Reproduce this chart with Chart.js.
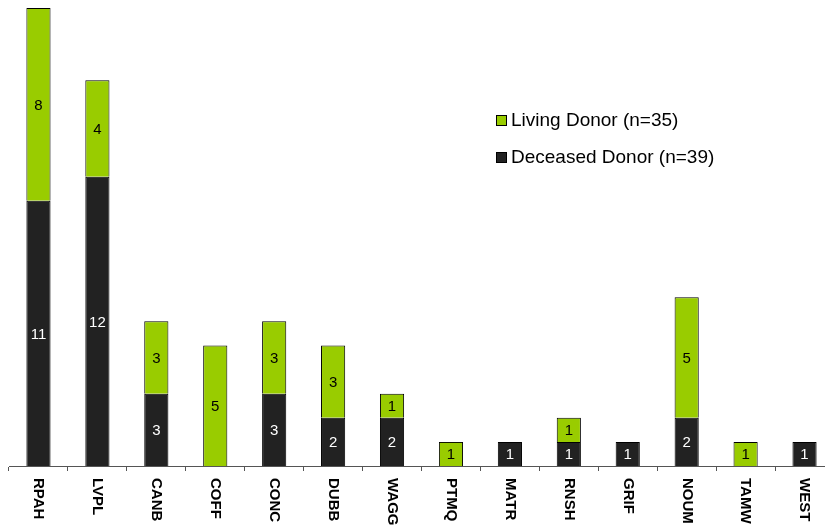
<!DOCTYPE html>
<html>
<head>
<meta charset="utf-8">
<script src="https://cdn.jsdelivr.net/npm/chart.js@4/dist/chart.umd.min.js"></script>
<style>
    html, body { margin: 0; padding: 0; background: #fff; overflow: hidden; }
    #wrap { position: absolute; left: 0; top: 0; width: 834px; height: 530px; }
</style>
</head>
<body>
<div id="wrap"><canvas id="donorChart" width="834" height="530"></canvas></div>
<script>
// Transplant centres, donor counts per centre
const centres = ['RPAH', 'LVPL', 'CANB', 'COFF', 'CONC', 'DUBB', 'WAGG', 'PTMQ', 'MATR', 'RNSH', 'GRIF', 'NOUM', 'TAMW', 'WEST'];
const deceased = [11, 12, 3, 0, 3, 2, 2, 0, 1, 1, 1, 2, 0, 1];
const living = [8, 4, 3, 5, 3, 3, 1, 1, 0, 1, 0, 5, 1, 0];
const seriesNames = ['Deceased Donor (n=39)', 'Living Donor (n=35)'];

const GREEN = '#99cc00';
const DARK = '#222222';

/**
 * Value labels centred inside each stacked segment.
 */
const segmentLabels = {
    id: 'segmentLabels',
    afterDatasetsDraw(chart) {
        const ctx = chart.ctx;
        ctx.save();
        ctx.font = '15px "Liberation Sans", Arial, sans-serif';
        ctx.textAlign = 'center';
        ctx.textBaseline = 'middle';
        chart.data.datasets.forEach((ds, i) => {
            const meta = chart.getDatasetMeta(i);
            meta.data.forEach((bar, j) => {
                const v = ds.data[j];
                if (!v) return;
                ctx.fillStyle = i === 0 ? '#ffffff' : '#000000';
                ctx.fillText(String(v), bar.x, (bar.y + bar.base) / 2 + 1);
            });
        });
        ctx.restore();
    }
};

/**
 * Category names below the axis, turned clockwise (read top to bottom).
 */
const sideLabels = {
    id: 'sideLabels',
    afterDraw(chart) {
        const ctx = chart.ctx;
        const x = chart.scales.x;
        const top = chart.chartArea.bottom + 12;
        ctx.save();
        ctx.font = 'bold 15px "Liberation Sans", Arial, sans-serif';
        ctx.fillStyle = '#000';
        ctx.textAlign = 'left';
        ctx.textBaseline = 'middle';
        centres.forEach((name, i) => {
            ctx.save();
            ctx.translate(x.getPixelForValue(i), top);
            ctx.rotate(Math.PI / 2);
            ctx.fillText(name, 0, 0);
            ctx.restore();
        });
        ctx.restore();
    }
};

/**
 * Legend box inside the plot, Living first.
 */
const boxLegend = {
    id: 'boxLegend',
    afterDraw(chart) {
        const ctx = chart.ctx;
        const rows = [1, 0];
        ctx.save();
        ctx.font = '19px "Liberation Sans", Arial, sans-serif';
        ctx.textAlign = 'left';
        ctx.textBaseline = 'middle';
        rows.forEach((di, k) => {
            const ds = chart.data.datasets[di];
            const cy = 121 + k * 37;
            ctx.fillStyle = ds.backgroundColor;
            ctx.fillRect(496.5, cy - 5.5, 10, 10);
            ctx.strokeStyle = '#000';
            ctx.lineWidth = 1;
            ctx.strokeRect(496.5, cy - 5.5, 10, 10);
            ctx.fillStyle = '#000';
            ctx.fillText(ds.label, 511, cy);
        });
        ctx.restore();
    }
};

new Chart(document.getElementById('donorChart'), {
    type: 'bar',
    data: {
        labels: centres,
        datasets: [{
            label: seriesNames[0],
            data: deceased,
            backgroundColor: DARK,
            borderColor: '#000',
            borderWidth: 1,
            barPercentage: 0.41,
            categoryPercentage: 1,
        }, {
            label: seriesNames[1],
            data: living,
            backgroundColor: GREEN,
            borderColor: '#000',
            borderWidth: 1,
            barPercentage: 0.41,
            categoryPercentage: 1,
        }],
    },
    options: {
        responsive: false,
        animation: false,
        layout: { padding: { left: 9, right: 0, top: 8, bottom: 0 } },
        plugins: {
            legend: { display: false },
            tooltip: { enabled: false },
        },
        scales: {
            x: {
                stacked: true,
                offset: true,
                afterFit(scale) { scale.height = 64; },
                grid: {
                    offset: true,
                    drawOnChartArea: false,
                    drawTicks: true,
                    tickLength: 5,
                    color: '#555',
                },
                border: { color: '#555', width: 1 },
                ticks: { display: false },
            },
            y: {
                stacked: true,
                display: false,
                min: 0,
                max: 19,
            },
        },
    },
    plugins: [segmentLabels, sideLabels, boxLegend],
});
</script>
</body>
</html>
